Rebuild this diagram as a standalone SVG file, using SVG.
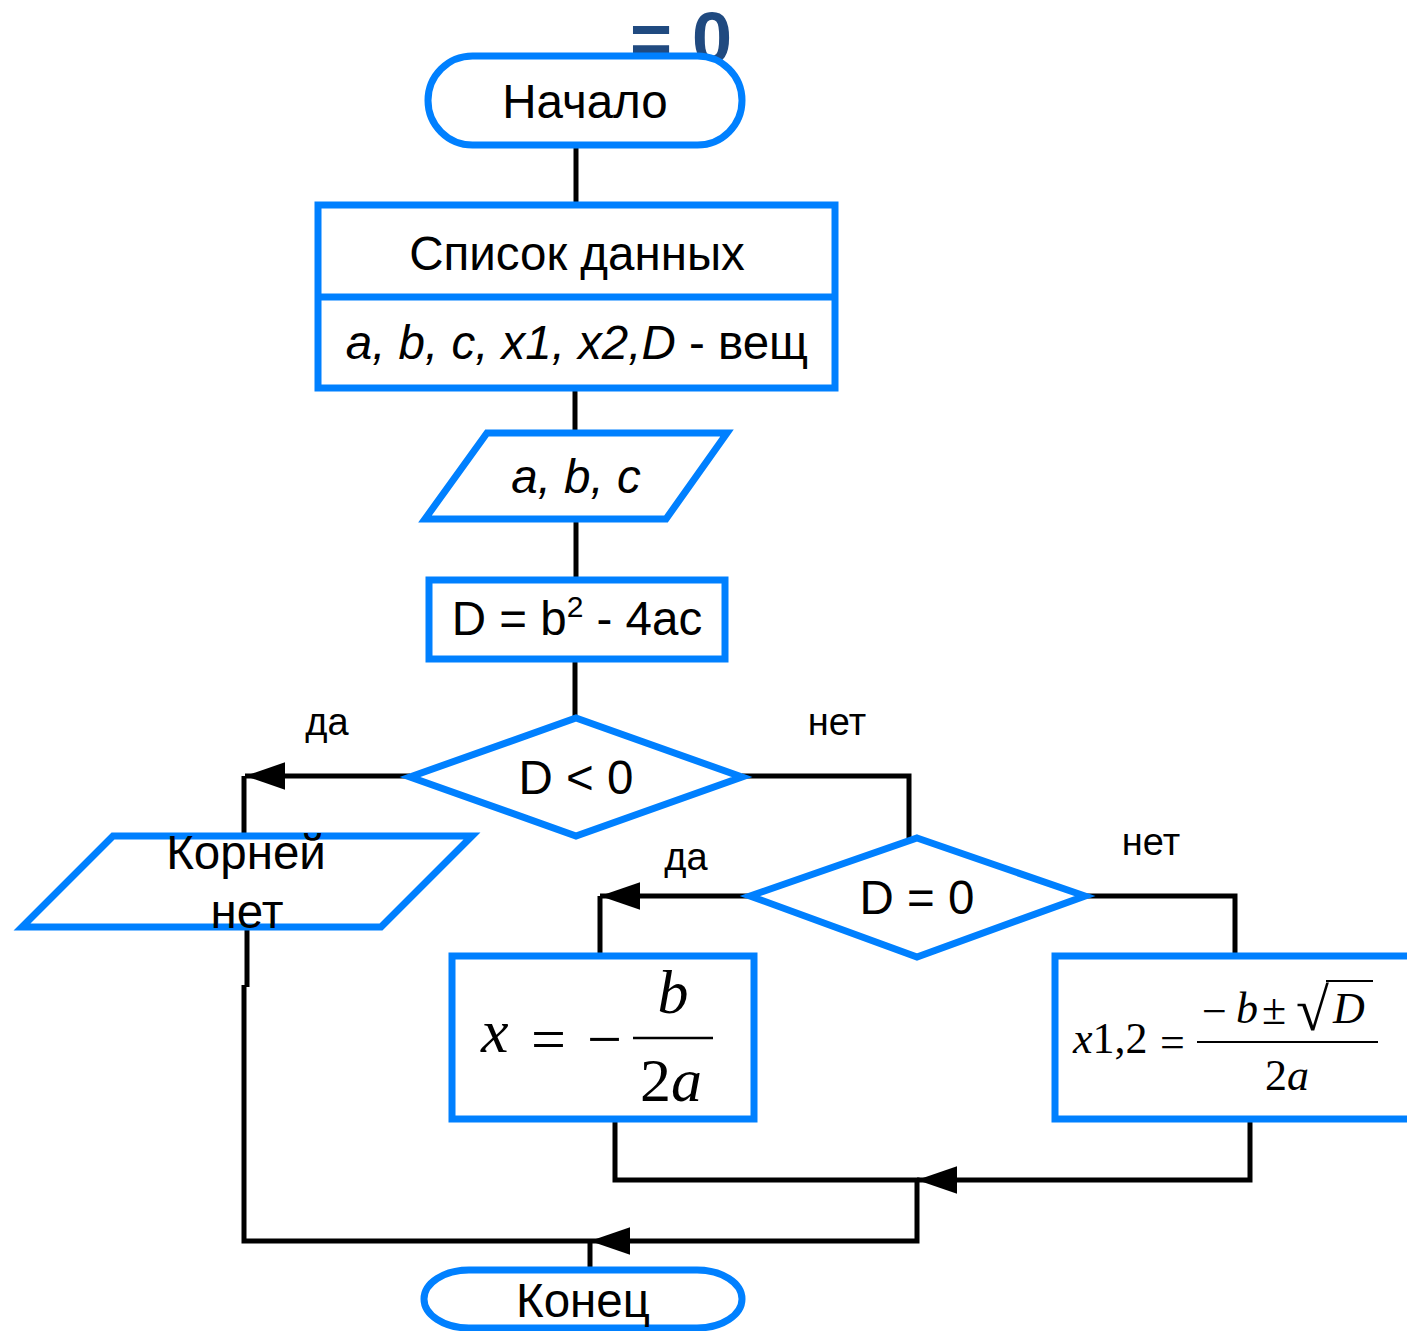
<svg xmlns="http://www.w3.org/2000/svg" width="1407" height="1331" viewBox="0 0 1407 1331">
<defs>
<style>
.shape{fill:#fff;stroke:#0080FF;stroke-width:7}
.conn{fill:none;stroke:#000;stroke-width:5}
.t{font-family:"Liberation Sans",Arial,sans-serif;font-size:47.5px;fill:#000;text-anchor:middle}
.lbl{font-family:"Liberation Sans",Arial,sans-serif;font-size:38px;fill:#000;text-anchor:middle}
.m{font-family:"Liberation Serif","Times New Roman",serif;fill:#000}
.i{font-style:italic}
</style>
<marker id="ah" markerUnits="userSpaceOnUse" markerWidth="40" markerHeight="28" viewBox="0 0 38 26" refX="38" refY="13" orient="auto">
<path d="M0,0 L38,13 L0,26 z" fill="#000"/>
</marker>
</defs>
<rect width="1407" height="1331" fill="#fff"/>
<text x="681" y="63" font-family="Liberation Sans,Arial,sans-serif" font-weight="bold" font-size="72" fill="#204A80" text-anchor="middle">= 0</text>

<g id="connectors">
<path class="conn" d="M576,145 V205"/>
<path class="conn" d="M575,388 V433"/>
<path class="conn" d="M576,519 V580"/>
<path class="conn" d="M575,659 V718"/>
<path class="conn" d="M410,776 H245" marker-end="url(#ah)"/>
<path class="conn" d="M244,776 V836"/>
<path class="conn" d="M742,776 H909 V838"/>
<path class="conn" d="M750,896 H600" marker-end="url(#ah)"/>
<path class="conn" d="M600,896 V956"/>
<path class="conn" d="M1085,896 H1235 V956"/>
<path class="conn" d="M247,927 V987"/>
<path class="conn" d="M244,985 V1241 H590"/>
<path class="conn" d="M615,1119 V1180 H917 V1241 H590" marker-end="url(#ah)"/>
<path class="conn" d="M1250,1119 V1180 H917" marker-end="url(#ah)"/>
<path class="conn" d="M590,1241 V1270"/>
</g>

<g id="start">
<rect class="shape" x="428" y="56" width="314" height="89" rx="44.5"/>
<text class="t" x="585" y="118">Начало</text>
</g>

<g id="data-list">
<rect class="shape" x="318" y="205" width="517" height="183"/>
<line x1="318" y1="297" x2="835" y2="297" stroke="#0080FF" stroke-width="7"/>
<text class="t" x="577" y="270">Список данных</text>
<text class="t" x="577" y="359"><tspan font-style="italic">a, b, c, x1, x2,D</tspan> - вещ</text>
</g>

<g id="input">
<polygon class="shape" points="487,433 727,433 666,519 425,519"/>
<text class="t" x="576" y="493" font-style="italic">a, b, c</text>
</g>

<g id="calc-d">
<rect class="shape" x="429" y="580" width="296" height="79"/>
<text class="t" x="577" y="635">D = b<tspan font-size="30" dy="-18">2</tspan><tspan dy="18"> - 4ac</tspan></text>
</g>

<g id="cond-neg">
<polygon class="shape" points="576,718 742,777 576,836 410,777"/>
<text class="t" x="576" y="794">D &lt; 0</text>
</g>
<text class="lbl" x="327" y="735">да</text>
<text class="lbl" x="837" y="735">нет</text>

<g id="no-roots">
<polygon class="shape" points="113,836 472,836 381,927 22,927"/>
<text class="t" x="246" y="869">Корней</text>
<text class="t" x="247" y="928">нет</text>
</g>

<g id="cond-zero">
<polygon class="shape" points="917,838 1085,896 917,957 750,896"/>
<text class="t" x="917" y="914">D = 0</text>
</g>
<text class="lbl" x="686" y="870">да</text>
<text class="lbl" x="1151" y="855">нет</text>

<g id="one-root">
<rect class="shape" x="452" y="956" width="302" height="163"/>
<text class="m i" x="481" y="1052" font-size="62">x</text>
<text class="m" x="531" y="1060" font-size="62">=</text>
<text class="m" x="587" y="1060" font-size="62">−</text>
<line x1="633" y1="1038" x2="713" y2="1038" stroke="#000" stroke-width="2.5"/>
<text class="m i" x="673" y="1013" font-size="62" text-anchor="middle">b</text>
<text class="m" x="640" y="1101" font-size="62">2<tspan font-style="italic">a</tspan></text>
</g>

<g id="two-roots">
<rect class="shape" x="1055" y="956" width="362" height="163"/>
<text class="m" x="1073" y="1053" font-size="44"><tspan font-style="italic">x</tspan>1,2</text>
<text class="m" x="1160" y="1057" font-size="44">=</text>
<line x1="1197" y1="1042" x2="1378" y2="1042" stroke="#000" stroke-width="2"/>
<text class="m" x="1202" y="1026" font-size="44">−</text>
<text class="m i" x="1236" y="1023" font-size="44">b</text>
<text class="m" x="1262" y="1024" font-size="44">±</text>
<text class="m" x="1296" y="1030" font-size="60">√</text>
<line x1="1326" y1="981" x2="1373" y2="981" stroke="#000" stroke-width="2"/>
<text class="m i" x="1333" y="1023" font-size="44">D</text>
<text class="m" x="1287" y="1090" font-size="44" text-anchor="middle">2<tspan font-style="italic">a</tspan></text>
</g>

<g id="end">
<rect class="shape" x="424" y="1270" width="318" height="58" rx="45" ry="29"/>
<text class="t" x="583" y="1317">Конец</text>
</g>
</svg>
